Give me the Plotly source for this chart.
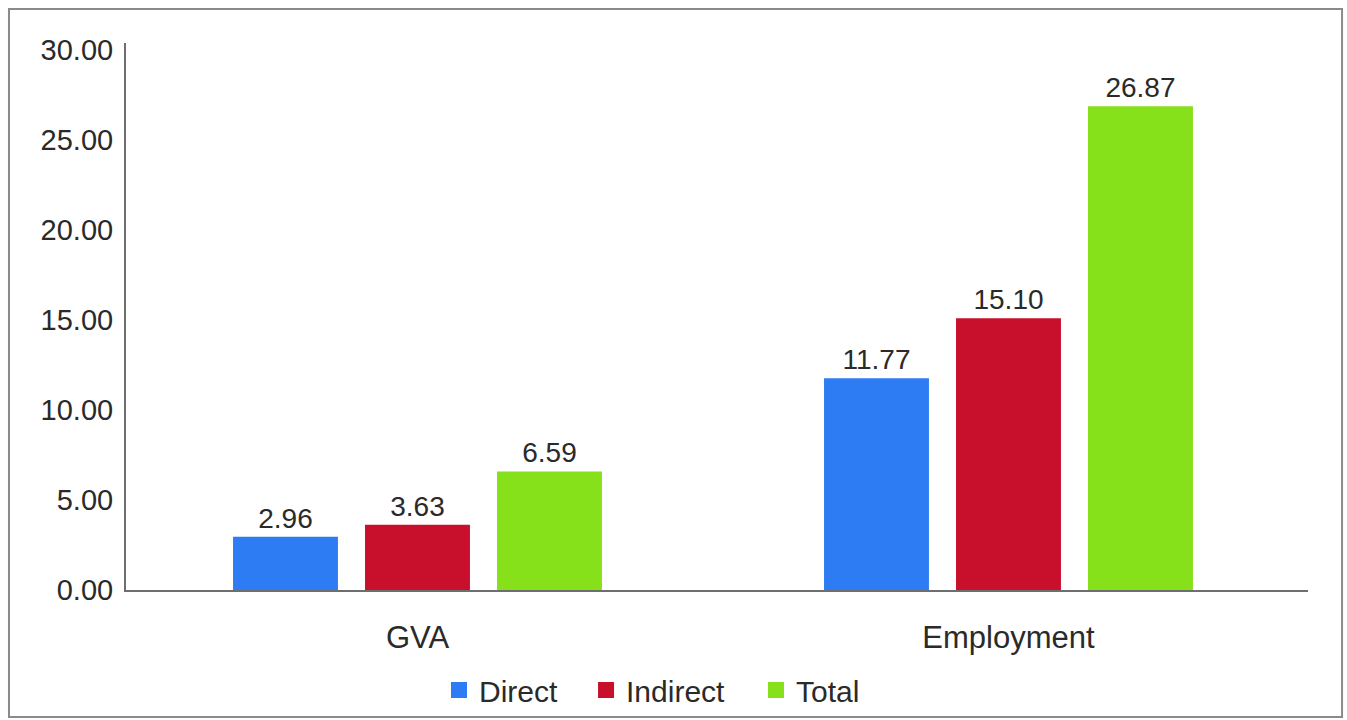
import plotly.graph_objects as go

categories = ["GVA", "Employment"]
series_names = ["Direct", "Indirect", "Total"]
direct = [2.96, 11.77]
indirect = [3.63, 15.10]
total = [6.59, 26.87]
y_ticks = [0, 5, 10, 15, 20, 25, 30]

colors = {"Direct": "#2d7cf3", "Indirect": "#c8102c", "Total": "#86e11b"}
font_family = "Liberation Sans, Arial, sans-serif"
text_color = "#2a2a2a"

# one legend box per series so the entries can be spaced freely
legend_ids = ["legend", "legend2", "legend3"]
legend_x = [0.2648, 0.3892, 0.533]

fig = go.Figure()
for name, values, lid in zip(series_names, [direct, indirect, total], legend_ids):
    fig.add_trace(go.Bar(
        x=categories, y=values, name=name,
        marker=dict(color=colors[name], line=dict(width=0)),
        text=[f"{v:.2f}" for v in values],
        textposition="outside",
        textfont=dict(size=28, color=text_color, family=font_family),
        cliponaxis=False,
        showlegend=False,
    ))
    # legend entry with a square swatch
    fig.add_trace(go.Scatter(
        x=[None], y=[None], mode="markers", name=name,
        marker=dict(symbol="square", size=16, color=colors[name]),
        showlegend=True, legend=lid,
    ))

legend_common = dict(
    orientation="h", xanchor="left", y=-0.1828, yanchor="middle",
    font=dict(size=30, color=text_color), itemsizing="trace",
    bgcolor="rgba(0,0,0,0)", borderwidth=0,
)

fig.update_layout(
    width=1347, height=720,
    margin=dict(l=126, r=39, t=43, b=130, autoexpand=False),
    paper_bgcolor="white", plot_bgcolor="white",
    barmode="group", bargap=0.33, bargroupgap=0.205,
    font=dict(family=font_family, size=28, color=text_color),
    legend=dict(x=legend_x[0], **legend_common),
    legend2=dict(x=legend_x[1], **legend_common),
    legend3=dict(x=legend_x[2], **legend_common),
    xaxis=dict(
        range=[-0.4932, 1.5068],
        showline=True, linecolor="#6e6e6e", linewidth=2,
        ticks="outside", ticklen=19, tickcolor="rgba(0,0,0,0)",
        tickfont=dict(size=31, color=text_color), showgrid=False,
    ),
    yaxis=dict(
        range=[0, 30.39], tickvals=y_ticks, tickformat=".2f",
        showline=True, linecolor="#6e6e6e", linewidth=2,
        ticks="outside", ticklen=5, tickcolor="rgba(0,0,0,0)",
        tickfont=dict(size=29, color=text_color),
        showgrid=False, zeroline=False,
    ),
    shapes=[dict(
        type="rect", xref="paper", yref="paper",
        x0=-0.099, x1=1.0288, y0=-0.2322, y1=1.0622,
        line=dict(color="#8a8a8a", width=2), fillcolor="rgba(0,0,0,0)",
    )],
)

fig.write_html("out.html")
